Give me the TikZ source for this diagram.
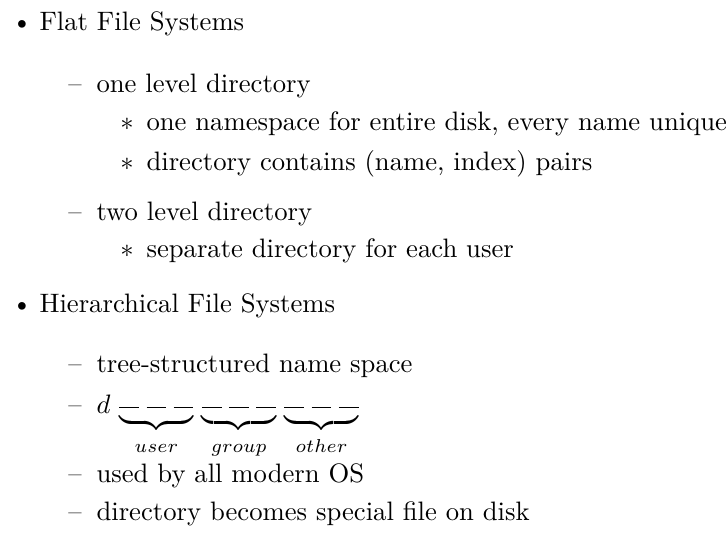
\documentclass[tikz,border=0pt]{standalone}
\usepackage{amssymb}
\usetikzlibrary{positioning}
\tikzset{
  mark1/.style = {anchor=base, inner sep=0pt},
  item/.style  = {anchor=base west, inner sep=0pt}
}
% one blank of the permission string
\newcommand{\blank}{\rule[1.8pt]{7.4pt}{0.5pt}}
\newcommand{\blanks}{\blank\hspace{2.8pt}\blank\hspace{2.8pt}\blank}
\begin{document}
\begin{tikzpicture}[x=0.375pt,y=-0.375pt]
        \useasboundingbox (0,0) rectangle (726,535);

        % first level
        \node[mark1] (b1) at (22,30) {\textbullet};
        \node[item] (flat) at (39,30) {Flat File Systems};

        \node[mark1] (d1) at (75,92) {--};
        \node[item] (one) at (96,92) {one level directory};
        \node[mark1] (s1) at (127,130) {$\ast$};
        \node[item] (ns) at (146,130) {one namespace for entire disk, every name unique};
        \node[mark1] (s2) at (127,170) {$\ast$};
        \node[item] (pairs) at (146,170) {directory contains (name, index) pairs};

        \node[mark1] (d2) at (75,220) {--};
        \node[item] (two) at (96,220) {two level directory};
        \node[mark1] (s3) at (127,257) {$\ast$};
        \node[item] (sep) at (146,257) {separate directory for each user};

        % second level
        \node[mark1] (b2) at (22,312) {\textbullet};
        \node[item] (hier) at (39,312) {Hierarchical File Systems};

        \node[mark1] (d3) at (75,372) {--};
        \node[item] (tree) at (96,372) {tree-structured name space};
        \node[mark1] (d4) at (75,413) {--};
        \node[item] (perm) at (96,413)
            {$d\,\underbrace{\blanks}_{\rule{0pt}{6pt}user}\hspace{1.5pt}\underbrace{\blanks}_{\rule{0pt}{6pt}group}\hspace{1.5pt}\underbrace{\blanks}_{\rule{0pt}{6pt}other}$};
        \node[mark1] (d5) at (75,482) {--};
        \node[item] (os) at (96,482) {used by all modern OS};
        \node[mark1] (d6) at (75,520) {--};
        \node[item] (disk) at (96,520) {directory becomes special file on disk};
    \end{tikzpicture}
\end{document}
